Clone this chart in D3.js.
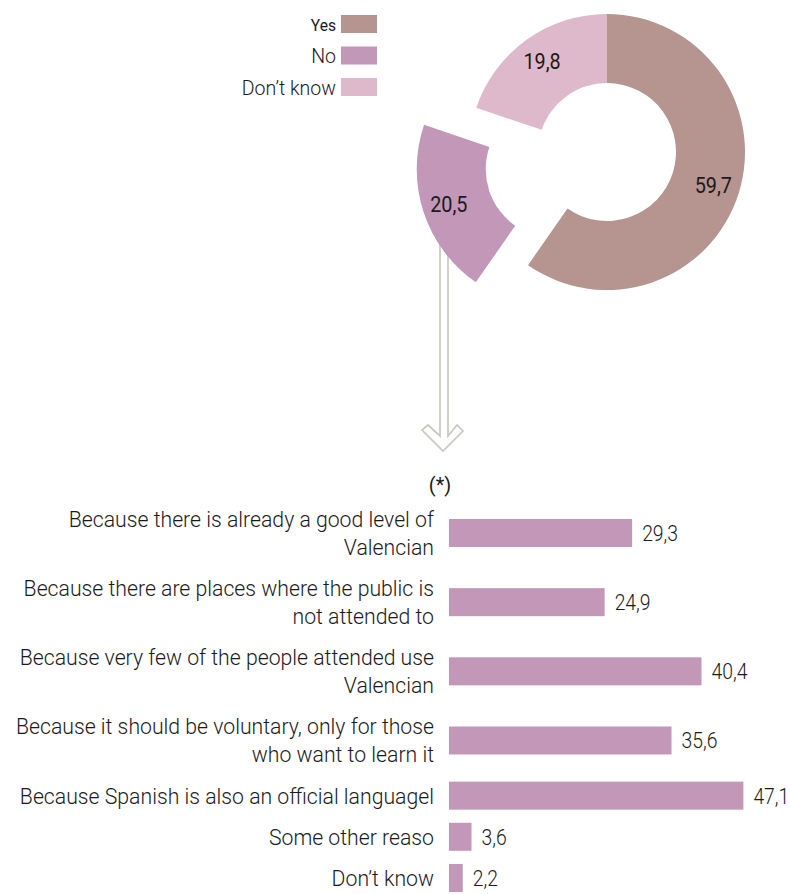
<!DOCTYPE html>
<html>
<head>
<meta charset="utf-8">
<script src="https://cdn.jsdelivr.net/npm/d3@7"></script>
<style>
  html, body { margin: 0; padding: 0; background: #fff; }
  svg { display: block; }
  text { font-family: Roboto, "Noto Sans", sans-serif; fill: #1a1a1a; }
</style>
</head>
<body>
<svg id="chart" width="789" height="894"></svg>
<script>
// ---------- data ----------
const donutCategories = ["Yes", "No", "Don’t know"];
const donutValues = [59.7, 20.5, 19.8];
const donutLabels = ["59,7", "20,5", "19,8"];
const donutColors = ["#b69591", "#c297b8", "#deb8cb"];

const barCategories = [
  "Because there is already a good level of\nValencian",
  "Because there are places where the public is\nnot attended to",
  "Because very few of the people attended use\nValencian",
  "Because it should be voluntary, only for those\nwho want to learn it",
  "Because Spanish is also an official languagel",
  "Some other reaso",
  "Don’t know"
];
const barValues = [29.3, 24.9, 40.4, 35.6, 47.1, 3.6, 2.2];
const barLabels = ["29,3", "24,9", "40,4", "35,6", "47,1", "3,6", "2,2"];
const barColor = "#c297b8";
const note = "(*)";

// ---------- setup ----------
const svg = d3.select("#chart");

// condensed text helper
function ctext(parent, x, y, sx, anchor, size, weight, str) {
  const g = parent.append("g").attr("transform", `translate(${x},${y}) scale(${sx},1)`);
  return g.append("text")
    .attr("x", 0).attr("y", 0).attr("dy", "0.36em")
    .attr("text-anchor", anchor)
    .attr("font-size", size).attr("font-weight", weight)
    .text(str);
}

// ---------- legend ----------
const legend = svg.append("g");
const legY = d3.scalePoint().domain(donutCategories).range([24, 87]);
donutCategories.forEach((c, i) => {
  const y = legY(c);
  legend.append("rect")
    .attr("x", 341).attr("y", y - 9).attr("width", 36).attr("height", 18)
    .attr("fill", donutColors[i]);
  if (i === 0) ctext(legend, 336, y + 1, 0.92, "end", 17, 400, c);
  else ctext(legend, 336, y, 0.93, "end", 21, 300, c);
});

// ---------- arrow (behind donut) ----------
const arrowColor = "#c9c9bf";
const arrow = svg.append("g").attr("fill", "none").attr("stroke", arrowColor).attr("stroke-width", 1.7);
arrow.append("path").attr("d",
  "M440,235 L440,436 L428,425 L422,430 L443,451 L463,431 L457,425 L448,436 L448,235");

// ---------- donut ----------
const cx = 607, cy = 152, rOuter = 138, rInner = 69;
const pie = d3.pie().sort(null).value(d => d)(donutValues);
const arc = d3.arc().innerRadius(rInner).outerRadius(rOuter);
const labelArc = d3.arc().innerRadius(rInner + 8).outerRadius(rOuter + 8);
const explode = [0, 55, 0];
const donut = svg.append("g").attr("transform", `translate(${cx},${cy})`);
pie.forEach((p, i) => {
  const mid = (p.startAngle + p.endAngle) / 2;
  const dx = Math.sin(mid) * explode[i], dy = -Math.cos(mid) * explode[i];
  const g = donut.append("g").attr("transform", `translate(${dx},${dy})`);
  g.append("path").attr("d", arc(p)).attr("fill", donutColors[i]);
  const c = labelArc.centroid(p);
  ctext(g, c[0], c[1], 0.9, "middle", 22, 400, donutLabels[i]);
});

// ---------- bars ----------
// vertical layout in "text line" units: each row takes its number of label lines plus a gap
const lineCounts = barCategories.map(s => s.split("\n").length);
const gapUnits = 0.47;
const rowStart = [];
let acc = 0;
lineCounts.forEach(n => { rowStart.push(acc); acc += n + gapUnits; });
const y = d3.scaleLinear().domain([0, 1]).range([505, 533]);   // 28 px per text line
const x = d3.scaleLinear().domain([0, 50]).range([449, 449 + 50 * 6.25]);
const barH = 28;

ctext(svg, 440, 484, 0.95, "middle", 21, 400, note);

const bars = svg.append("g");
barValues.forEach((v, i) => {
  const n = lineCounts[i];
  const yc = y(rowStart[i] + n / 2);
  bars.append("rect")
    .attr("x", x(0)).attr("y", yc - barH / 2)
    .attr("width", x(v) - x(0)).attr("height", barH)
    .attr("fill", barColor);
  ctext(bars, x(v) + 10, yc, 0.88, "start", 22, 300, barLabels[i]);
  const lines = barCategories[i].split("\n");
  lines.forEach((ln, j) => {
    ctext(bars, 434, y(rowStart[i] + j + 0.5), 0.965, "end", 22, 300, ln);
  });
});
</script>
</body>
</html>
